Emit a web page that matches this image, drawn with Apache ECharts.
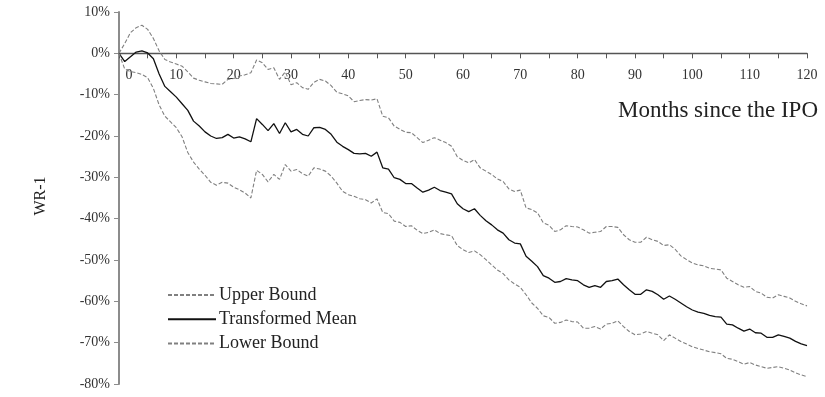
<!DOCTYPE html>
<html>
<head>
<meta charset="utf-8">
<script src="https://cdn.jsdelivr.net/npm/echarts@6/dist/echarts.min.js"></script>
<style>
  html, body { margin: 0; padding: 0; background: #fff; }
  #chart { width: 825px; height: 397px; }
</style>
</head>
<body>
<div id="chart"></div>
<script>
// Months since the IPO (0..120), one observation per month
const months = Array.from({ length: 121 }, (_, i) => i);

// Wealth relative minus one, in percent
const upperBound = [
  0, 2.4, 5.0, 6.2, 6.8, 5.8, 3.6, 0.6, -1.5, -2.1,
  -2.6, -3.1, -4.5, -6.0, -6.5, -6.9, -7.3, -7.4, -7.5, -6.3,
  -6.1, -5.5, -5.2, -4.7, -1.6, -2.3, -3.9, -3.5, -6.3, -4.5,
  -7.6, -7.1, -8.3, -8.7, -7.0, -6.3, -6.7, -7.8, -9.4, -9.8,
  -10.3, -11.7, -11.4, -11.2, -11.3, -11.0, -15.2, -15.6, -17.6, -18.4,
  -19.1, -19.2, -20.4, -21.6, -21.0, -20.4, -21.0, -21.6, -22.5, -25.0,
  -25.9, -26.5, -25.7, -27.7, -28.5, -29.3, -30.4, -31.0, -32.8, -33.4,
  -33.1, -37.4, -37.8, -38.6, -41.0, -41.6, -43.1, -42.7, -41.7, -41.9,
  -42.0, -42.7, -43.5, -43.3, -43.1, -41.9, -41.9, -42.1, -43.9, -45.1,
  -45.7, -45.7, -44.5, -45.1, -45.5, -46.5, -46.3, -47.4, -49.0, -49.9,
  -50.7, -51.2, -51.4, -52.0, -52.2, -52.4, -54.4, -55.2, -56.0, -56.6,
  -56.4, -57.6, -58.0, -59.0, -59.2, -58.4, -58.8, -59.2, -60.0, -60.6,
  -61.1
];

const transformedMean = [
  0, -2.0, -0.8, 0.3, 0.6, 0.1, -1.3, -5.0, -8.0, -9.3,
  -10.6, -12.2, -13.8, -16.4, -17.6, -19.0, -20.0, -20.6, -20.4, -19.6,
  -20.5, -20.2, -20.7, -21.4, -15.8, -17.2, -18.7, -17.0, -19.4, -16.8,
  -19.0, -18.4, -19.6, -20.0, -18.0, -17.9, -18.4, -19.6, -21.5, -22.5,
  -23.3, -24.2, -24.3, -24.2, -24.9, -23.9, -27.7, -28.0, -30.1, -30.5,
  -31.5, -31.5, -32.6, -33.6, -33.1, -32.4, -33.2, -33.6, -34.0, -36.4,
  -37.6, -38.3, -37.6, -39.2, -40.5, -41.5, -42.7, -43.5, -45.1, -45.9,
  -46.1, -49.1, -50.3, -51.6, -53.8, -54.4, -55.4, -55.2, -54.5, -54.8,
  -55.0, -56.0, -56.6, -56.2, -56.6, -55.2, -55.0, -54.6, -56.0, -57.2,
  -58.3, -58.3, -57.2, -57.6, -58.4, -59.5, -58.7, -59.5, -60.4, -61.3,
  -62.1, -62.6, -62.9, -63.4, -63.7, -63.8, -65.5, -65.7, -66.5, -67.2,
  -66.7, -67.6, -67.7, -68.7, -68.7, -68.1, -68.5, -68.9, -69.7, -70.3,
  -70.7
];

const lowerBound = [
  0, -3.8, -4.4, -4.7, -5.1, -5.9, -8.5, -12.5, -15.2, -16.6,
  -18.0, -20.2, -24.0, -26.3, -28.0, -29.5, -31.2, -31.9, -31.2, -31.4,
  -32.4, -33.0, -33.8, -35.0, -28.3, -29.3, -31.1, -29.3, -30.5, -26.9,
  -28.5, -28.1, -29.1, -29.7, -27.7, -28.0, -28.5, -29.7, -31.4, -33.4,
  -34.2, -34.6, -35.2, -35.4, -36.2, -35.2, -38.5, -38.8, -40.6, -40.9,
  -41.9, -41.7, -42.8, -43.6, -43.3, -42.7, -43.6, -43.9, -44.1, -46.5,
  -47.5, -48.2, -47.8, -48.7, -49.9, -51.2, -52.4, -53.3, -54.8, -55.8,
  -56.6, -58.4, -60.4, -61.7, -63.5, -63.9, -65.3, -65.1, -64.5, -64.9,
  -65.0, -66.5, -66.5, -66.1, -66.7, -65.5, -65.3, -64.7, -66.1, -67.3,
  -68.1, -67.9, -67.3, -67.7, -68.1, -69.5, -68.1, -68.9, -69.7, -70.3,
  -71.0, -71.4, -71.8, -72.2, -72.4, -72.7, -73.8, -74.0, -74.6, -75.2,
  -74.8, -75.4, -75.8, -76.2, -76.0, -75.8, -76.2, -76.6, -77.3, -77.8,
  -78.2
];

const yTicks = { min: -80, max: 10, step: 10 };
const xTicks = { min: 0, max: 120, step: 5, labelEvery: 10 };

const serif = '"Liberation Serif", "DejaVu Serif", serif';
const pair = arr => months.map((m, i) => [m, arr[i]]);

// Plot area
const W = 825, H = 397;
const gridBox = { left: 119, right: 18, top: 12, bottom: 13 };
const plotH = H - gridBox.top - gridBox.bottom;
// Lift the month axis (line, ticks and labels) from the bottom edge up to the 0% level
const zeroLift = -plotH * (0 - yTicks.min) / (yTicks.max - yTicks.min);

const chart = echarts.init(document.getElementById('chart'), null, { renderer: 'canvas' });

chart.setOption({
  animation: false,
  backgroundColor: '#ffffff',
  grid: Object.assign({ containLabel: false }, gridBox),
  xAxis: {
    type: 'value',
    position: 'bottom',
    offset: zeroLift,
    min: xTicks.min,
    max: xTicks.max,
    interval: xTicks.step,
    axisLine: { onZero: false, lineStyle: { color: '#555555', width: 1.3 } },
    axisTick: { show: true, length: 5, lineStyle: { color: '#555555', width: 1 } },
    splitLine: { show: false },
    axisLabel: {
      margin: 15,
      fontFamily: serif,
      fontSize: 14,
      color: '#333333',
      showMinLabel: true,
      showMaxLabel: true,
      formatter: v => {
        if (v % xTicks.labelEvery !== 0) return '';
        if (v === 0) return '{z|0}';
        return String(v);
      },
      rich: { z: { fontFamily: serif, fontSize: 14, color: '#333333', padding: [0, 0, 0, 20] } }
    }
  },
  yAxis: {
    type: 'value',
    min: yTicks.min,
    max: yTicks.max,
    interval: yTicks.step,
    axisLine: { show: true, lineStyle: { color: '#8c8c8c', width: 2 } },
    axisTick: { show: true, length: 5, lineStyle: { color: '#8c8c8c', width: 1 } },
    splitLine: { show: false },
    axisLabel: {
      margin: 9,
      fontFamily: serif,
      fontSize: 14,
      color: '#333333',
      formatter: '{value}%'
    }
  },
  legend: {
    orient: 'vertical',
    left: 167,
    top: 286,
    padding: 0,
    itemWidth: 48,
    itemHeight: 12,
    itemGap: 6.2,
    itemStyle: { opacity: 0 },
    textStyle: { fontFamily: serif, fontSize: 18, color: '#222222', padding: [0, 0, 0, -2] },
    data: ['Upper Bound', 'Transformed Mean', 'Lower Bound']
  },
  graphic: [
    {
      type: 'text',
      right: 7,
      top: 99,
      style: { text: 'Months since the IPO', font: '23px ' + serif, fill: '#222222' }
    },
    {
      type: 'text',
      x: 41,
      y: 196,
      rotation: Math.PI / 2,
      style: {
        text: 'WR-1', font: '16px ' + serif, fill: '#222222',
        align: 'center', verticalAlign: 'middle'
      }
    }
  ],
  series: [
    {
      name: 'Upper Bound',
      type: 'line',
      data: pair(upperBound),
      symbol: 'none',
      lineStyle: { color: '#808080', width: 1.1, type: [4, 2] },
      itemStyle: { color: '#808080' }
    },
    {
      name: 'Transformed Mean',
      type: 'line',
      data: pair(transformedMean),
      symbol: 'none',
      lineStyle: { color: '#111111', width: 1.3 },
      itemStyle: { color: '#111111' }
    },
    {
      name: 'Lower Bound',
      type: 'line',
      data: pair(lowerBound),
      symbol: 'none',
      lineStyle: { color: '#808080', width: 1.1, type: [4, 2] },
      itemStyle: { color: '#808080' }
    }
  ]
});
</script>
</body>
</html>
